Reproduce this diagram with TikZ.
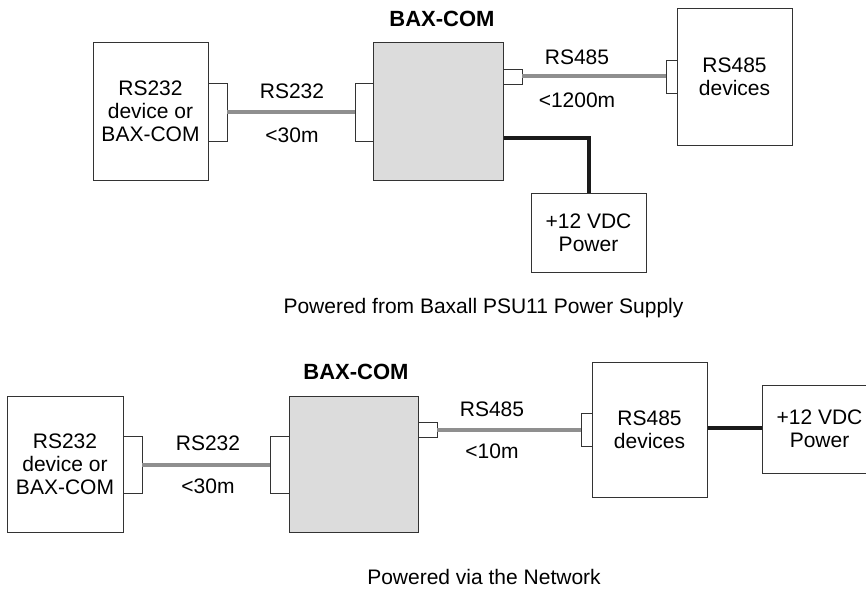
\documentclass[tikz,border=0pt]{standalone}
\usepackage{fontspec}
\setmainfont{Liberation Sans}
\usetikzlibrary{positioning}
\definecolor{boxline}{HTML}{333333}
\definecolor{baxfill}{HTML}{DCDCDC}
\definecolor{cablegrey}{HTML}{8F8F8F}
\definecolor{cableblack}{HTML}{1A1A1A}
\tikzset{
  unit/.style={draw=boxline, line width=1pt, fill=white, inner sep=0pt, align=center,
    minimum width=#1},
  unit/.default=115pt,
  plug/.style={draw=boxline, line width=0.8pt, fill=white, inner sep=0pt},
  lbl/.style={inner sep=0pt, align=center},
  greywire/.style={draw=cablegrey, line width=4pt},
  powerwire/.style={draw=cableblack, line width=4pt},
}
\begin{document}
\begin{tikzpicture}[x=1pt, y=-1pt, font=\fontsize{21}{23}\selectfont]
  \useasboundingbox (0,0) rectangle (866,591);
  % top: powered from PSU11
  \node[unit, minimum height=137pt] (dev1) at (150.5,111.5) {RS232\\device or\\BAX-COM};
  \node[plug, minimum width=19pt, minimum height=58pt] (plug1a) at (217.5,112) {};
  \node[plug, minimum width=18pt, minimum height=58pt] (plug1b) at (364,112) {};
  \node[unit=130pt, fill=baxfill, minimum height=137pt] (bax1) at (438,111.5) {};
  \node[lbl, font=\fontsize{22}{24}\selectfont\bfseries] (title1) at (442,19) {BAX-COM};
  \node[plug, minimum width=19pt, minimum height=15pt] (plug1c) at (512.5,76.5) {};
  \node[plug, minimum width=11pt, minimum height=33pt] (plug1d) at (671.5,76.5) {};
  \node[unit, minimum height=136pt] (rs1) at (734.5,77) {RS485\\devices};
  \node[unit, minimum height=79pt] (psu1) at (588.5,232.5) {+12 VDC\\Power};
  \path[greywire] (plug1a.east) -- (plug1b.west);
  \path[greywire] (plug1c.east) -- (plug1d.west);
  \path[powerwire] (bax1.east |- 0,137.7) -| (psu1.north);
  \node[lbl] (rs232a) at (292,91) {RS232};
  \node[lbl] (len232a) at (292,135) {<30m};
  \node[lbl] (rs485a) at (577,57) {RS485};
  \node[lbl] (len485a) at (577,100) {<1200m};
  \node[lbl] (cap1) at (483.5,309) {\strut Powered from Baxall PSU11 Power Supply};
  % bottom: powered via the network
  \node[unit=116pt, minimum height=136pt] (dev2) at (65,464) {RS232\\device or\\BAX-COM};
  \node[plug, minimum width=19pt, minimum height=57pt] (plug2a) at (132.5,464.5) {};
  \node[plug, minimum width=19pt, minimum height=57pt] (plug2b) at (279.5,464.5) {};
  \node[unit=129pt, fill=baxfill, minimum height=136pt] (bax2) at (353.5,464) {};
  \node[lbl, font=\fontsize{22}{24}\selectfont\bfseries] (title2) at (356,372) {BAX-COM};
  \node[plug, minimum width=19pt, minimum height=15pt] (plug2c) at (427.5,429.5) {};
  \node[plug, minimum width=11pt, minimum height=33pt] (plug2d) at (586.5,429.5) {};
  \node[unit, minimum height=135pt] (rs2) at (649.5,429.5) {RS485\\devices};
  \node[unit, minimum height=88pt] (psu2) at (819.5,429) {+12 VDC\\Power};
  \path[greywire] (plug2a.east) -- (plug2b.west);
  \path[greywire] (plug2c.east) -- (plug2d.west);
  \path[powerwire] (rs2.east |- 0,428.3) -- (psu2.west |- 0,428.3);
  \node[lbl] (rs232b) at (208,443) {RS232};
  \node[lbl] (len232b) at (208,486) {<30m};
  \node[lbl] (rs485b) at (492,409) {RS485};
  \node[lbl] (len485b) at (492,451) {<10m};
  \node[lbl] (cap2) at (484,580) {\strut Powered via the Network};
\end{tikzpicture}
\end{document}
